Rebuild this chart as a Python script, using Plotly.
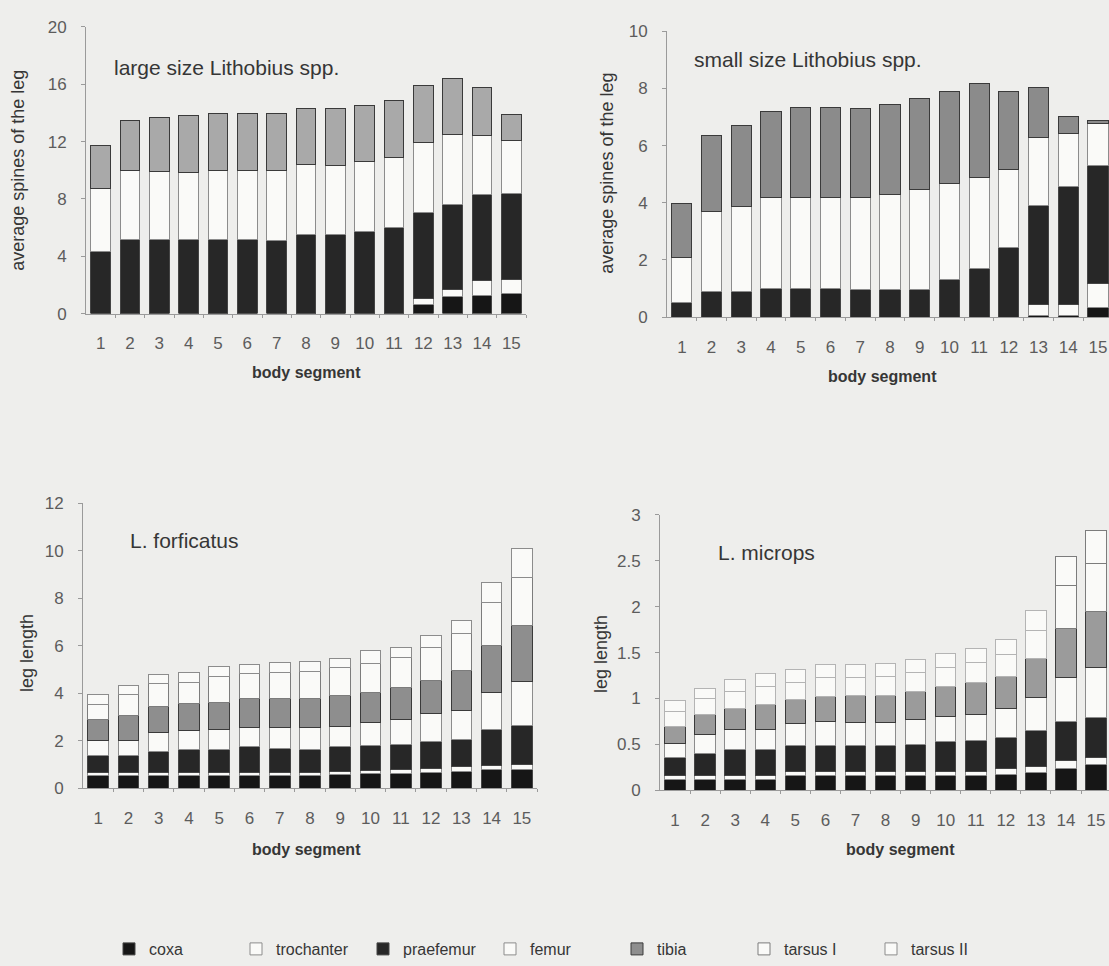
import plotly.graph_objects as go

# ---------------------------------------------------------------- data
segments = [1, 2, 3, 4, 5, 6, 7, 8, 9, 10, 11, 12, 13, 14, 15]
segment_labels = ["1", "2", "3", "4", "5", "6", "7", "8", "9", "10", "11", "12", "13", "14", "15"]
parts = ["coxa", "trochanter", "praefemur", "femur", "tibia", "tarsus I", "tarsus II"]

# average number of spines per leg article, large Lithobius spp.
large_coxa = [0, 0, 0, 0, 0, 0, 0, 0, 0, 0, 0, 0.65, 1.20, 1.26, 1.42]
large_trochanter = [0, 0, 0, 0, 0, 0, 0, 0, 0, 0, 0, 0.43, 0.47, 1.03, 0.98]
large_praefemur = [4.30, 5.20, 5.20, 5.20, 5.20, 5.15, 5.10, 5.50, 5.50, 5.72, 5.98, 5.99, 5.97, 5.99, 6.01]
large_femur = [4.45, 4.80, 4.70, 4.65, 4.80, 4.85, 4.90, 4.90, 4.80, 4.88, 4.92, 4.85, 4.84, 4.16, 3.69]
large_tibia = [3.00, 3.50, 3.80, 3.95, 3.95, 3.95, 3.95, 3.90, 4.00, 3.90, 3.96, 3.98, 3.92, 3.34, 1.79]

# average number of spines per leg article, small Lithobius spp.
small_coxa = [0, 0, 0, 0, 0, 0, 0, 0, 0, 0, 0, 0, 0.07, 0.07, 0.32]
small_trochanter = [0, 0, 0, 0, 0, 0, 0, 0, 0, 0, 0, 0, 0.36, 0.36, 0.85]
small_praefemur = [0.50, 0.88, 0.88, 1.00, 1.00, 1.00, 0.97, 0.97, 0.97, 1.32, 1.70, 2.45, 3.49, 4.13, 4.12]
small_femur = [1.60, 2.83, 2.98, 3.20, 3.20, 3.20, 3.22, 3.33, 3.48, 3.36, 3.20, 2.70, 2.37, 1.87, 1.48]
small_tibia = [1.86, 2.63, 2.86, 3.00, 3.12, 3.12, 3.11, 3.13, 3.21, 3.22, 3.27, 2.75, 1.73, 0.60, 0.12]

# leg article lengths, L. forficatus
forf_coxa = [0.55, 0.55, 0.56, 0.56, 0.56, 0.56, 0.56, 0.56, 0.59, 0.63, 0.63, 0.68, 0.72, 0.79, 0.79]
forf_trochanter = [0.10, 0.10, 0.10, 0.10, 0.10, 0.10, 0.10, 0.10, 0.13, 0.14, 0.16, 0.14, 0.21, 0.18, 0.21]
forf_praefemur = [0.75, 0.72, 0.91, 0.98, 0.99, 1.09, 1.02, 0.99, 1.03, 1.05, 1.05, 1.17, 1.12, 1.50, 1.64]
forf_femur = [0.60, 0.66, 0.79, 0.79, 0.81, 0.82, 0.86, 0.92, 0.86, 0.94, 1.04, 1.17, 1.24, 1.57, 1.87]
forf_tibia = [0.90, 1.04, 1.10, 1.14, 1.16, 1.20, 1.23, 1.20, 1.30, 1.28, 1.35, 1.39, 1.67, 1.98, 2.32]
forf_tarsus1 = [0.62, 0.86, 0.93, 0.87, 1.07, 1.05, 1.09, 1.15, 1.16, 1.23, 1.27, 1.37, 1.57, 1.78, 2.06]
forf_tarsus2 = [0.41, 0.41, 0.39, 0.45, 0.43, 0.41, 0.44, 0.42, 0.41, 0.51, 0.44, 0.51, 0.55, 0.85, 1.19]

# leg article lengths, L. microps
micr_coxa = [0.12, 0.12, 0.12, 0.12, 0.16, 0.16, 0.16, 0.16, 0.16, 0.16, 0.16, 0.17, 0.19, 0.24, 0.28]
micr_trochanter = [0.04, 0.04, 0.045, 0.045, 0.04, 0.05, 0.04, 0.04, 0.04, 0.05, 0.05, 0.07, 0.07, 0.08, 0.08]
micr_praefemur = [0.20, 0.245, 0.285, 0.28, 0.29, 0.28, 0.283, 0.283, 0.30, 0.323, 0.33, 0.33, 0.39, 0.435, 0.435]
micr_femur = [0.15, 0.205, 0.215, 0.214, 0.238, 0.26, 0.26, 0.253, 0.27, 0.274, 0.285, 0.326, 0.366, 0.472, 0.544]
micr_tibia = [0.19, 0.215, 0.231, 0.272, 0.26, 0.276, 0.287, 0.294, 0.31, 0.32, 0.345, 0.348, 0.417, 0.534, 0.604]
micr_tarsus1 = [0.16, 0.17, 0.185, 0.20, 0.19, 0.20, 0.20, 0.205, 0.205, 0.21, 0.22, 0.235, 0.31, 0.47, 0.523]
micr_tarsus2 = [0.114, 0.115, 0.129, 0.14, 0.135, 0.14, 0.14, 0.145, 0.145, 0.149, 0.153, 0.161, 0.215, 0.32, 0.366]

# ---------------------------------------------------------------- style
W, H = 1109, 966
BG = "#eeeeec"
FONT = "Liberation Sans"
TEXT = "#363636"
TICK = "#5c5c5c"
AXIS = "#9a9a9a"

FILL = {
    "coxa": "#161616",
    "trochanter": "#fafaf8",
    "praefemur": "#272727",
    "femur": "#fafaf8",
    "tarsus I": "#fafaf8",
    "tarsus II": "#fafaf8",
}
EDGE = {
    "coxa": "#444444",
    "trochanter": "#8c8c8c",
    "praefemur": "#444444",
    "femur": "#8c8c8c",
    "tibia": "#3a3a3a",
    "tarsus I": "#7c7c7c",
    "tarsus II": "#8c8c8c",
}
# in L. microps the tarsus I / tarsus II joint is only marked on the last two legs
MICR_TARSUS_EDGE = ["#b4b4b4"] * 13 + ["#7c7c7c"] * 2


def px_x(p):
    return p / W


def px_y(p):
    return 1 - p / H


panels = [
    dict(
        name="large size Lithobius spp.",
        series=[large_coxa, large_trochanter, large_praefemur, large_femur, large_tibia],
        tibia="#a9a9a9", tarsus_edge=None,
        x_px=(86, 526), xrange=[0.5, 15.5],
        y_px=(310.7, 18.3), yrange=[0, 20], dtick=4,
        ytitle="average spines of the leg", ytitle_x=18, ytitle_y=165,
        title_xy=(112, 60), xtitle_xy=(306, 371),
    ),
    dict(
        name="small size Lithobius spp.",
        series=[small_coxa, small_trochanter, small_praefemur, small_femur, small_tibia],
        tibia="#8b8b8b", tarsus_edge=None,
        x_px=(667, W), xrange=[0.5, 15.37],
        y_px=(314.3, 22.7), yrange=[0, 10], dtick=2,
        ytitle="average spines of the leg", ytitle_x=607, ytitle_y=168,
        title_xy=(692, 52), xtitle_xy=(882, 375),
    ),
    dict(
        name="L. forficatus",
        series=[forf_coxa, forf_trochanter, forf_praefemur, forf_femur, forf_tibia,
                forf_tarsus1, forf_tarsus2],
        tibia="#8e8e8e", tarsus_edge=None,
        x_px=(83, 537), xrange=[0.5, 15.5],
        y_px=(795, 504), yrange=[0, 12], dtick=2,
        ytitle="leg length", ytitle_x=27, ytitle_y=657,
        title_xy=(128, 542), xtitle_xy=(306, 857),
    ),
    dict(
        name="L. microps",
        series=[micr_coxa, micr_trochanter, micr_praefemur, micr_femur, micr_tibia,
                micr_tarsus1, micr_tarsus2],
        tibia="#9b9b9b", tarsus_edge=MICR_TARSUS_EDGE,
        x_px=(660, W), xrange=[0.5, 15.43],
        y_px=(797, 516), yrange=[0, 3], dtick=0.5,
        ytitle="leg length", ytitle_x=601, ytitle_y=658,
        title_xy=(716, 554), xtitle_xy=(900, 857),
    ),
]

fig = go.Figure()
annotations = []

for i, pn in enumerate(panels, start=1):
    xa = "x" if i == 1 else f"x{i}"
    ya = "y" if i == 1 else f"y{i}"
    show = i == 3  # the legend lists the articles once, from the full 7-part stack
    for part, values in zip(parts, pn["series"]):
        color = pn["tibia"] if part == "tibia" else FILL[part]
        edge = EDGE[part]
        if part.startswith("tarsus") and pn["tarsus_edge"] is not None:
            edge = pn["tarsus_edge"]
        fig.add_trace(go.Bar(
            x=segments, y=values, name=part,
            xaxis=xa, yaxis=ya,
            marker=dict(color=color, line=dict(color=edge, width=1)),
            legendgroup=part, showlegend=show,
            hoverinfo="x+y+name",
        ))

    x0, x1 = pn["x_px"]
    yb, yt = pn["y_px"]
    xkey = "xaxis" if i == 1 else f"xaxis{i}"
    ykey = "yaxis" if i == 1 else f"yaxis{i}"
    fig.update_layout({
        xkey: dict(
            domain=[px_x(x0), px_x(x1)], range=pn["xrange"], anchor=ya,
            tickmode="array", tickvals=segments, ticktext=segment_labels,
            ticks="", showgrid=False, zeroline=False,
            showline=True, linecolor=AXIS, linewidth=1,
            tickfont=dict(family=FONT, size=17, color=TICK),
            ticklabelstandoff=14,
            minor=dict(tickmode="array", tickvals=[s + 0.5 for s in segments],
                       ticks="outside", ticklen=3, tickcolor=AXIS, showgrid=False),
            fixedrange=True,
        ),
        ykey: dict(
            domain=[px_y(yb), px_y(yt)], range=pn["yrange"], anchor=xa,
            dtick=pn["dtick"], tick0=0,
            ticks="outside", ticklen=4, tickcolor=AXIS,
            showgrid=False, zeroline=False,
            showline=True, linecolor=AXIS, linewidth=1,
            tickfont=dict(family=FONT, size=17, color=TICK),
            ticklabelstandoff=11,
            fixedrange=True,
        ),
    })

    tx, ty = pn["title_xy"]
    annotations.append(dict(
        text=pn["name"], x=px_x(tx), y=px_y(ty), xref="paper", yref="paper",
        xanchor="left", yanchor="middle", showarrow=False,
        font=dict(family=FONT, size=21, color=TEXT),
    ))
    annotations.append(dict(
        text=pn["ytitle"], x=px_x(pn["ytitle_x"]), y=px_y(pn["ytitle_y"]),
        xref="paper", yref="paper", xanchor="center", yanchor="middle",
        textangle=-90, showarrow=False,
        font=dict(family=FONT, size=18, color=TEXT),
    ))
    bx, by = pn["xtitle_xy"]
    annotations.append(dict(
        text="<b>body segment</b>", x=px_x(bx), y=px_y(by),
        xref="paper", yref="paper", xanchor="center", yanchor="middle",
        showarrow=False, font=dict(family=FONT, size=16, color=TEXT),
    ))

fig.update_layout(
    width=W, height=H,
    margin=dict(l=0, r=0, t=0, b=0),
    paper_bgcolor=BG, plot_bgcolor=BG,
    barmode="stack", bargap=0.32,
    annotations=annotations,
    showlegend=True,
    legend=dict(
        orientation="h", x=px_x(109), y=px_y(959),
        xanchor="left", yanchor="middle",
        traceorder="normal", entrywidth=82, entrywidthmode="pixels",
        font=dict(family=FONT, size=16, color=TEXT),
        bgcolor="rgba(0,0,0,0)", itemclick=False, itemdoubleclick=False,
    ),
)

fig.write_html("out.html")
